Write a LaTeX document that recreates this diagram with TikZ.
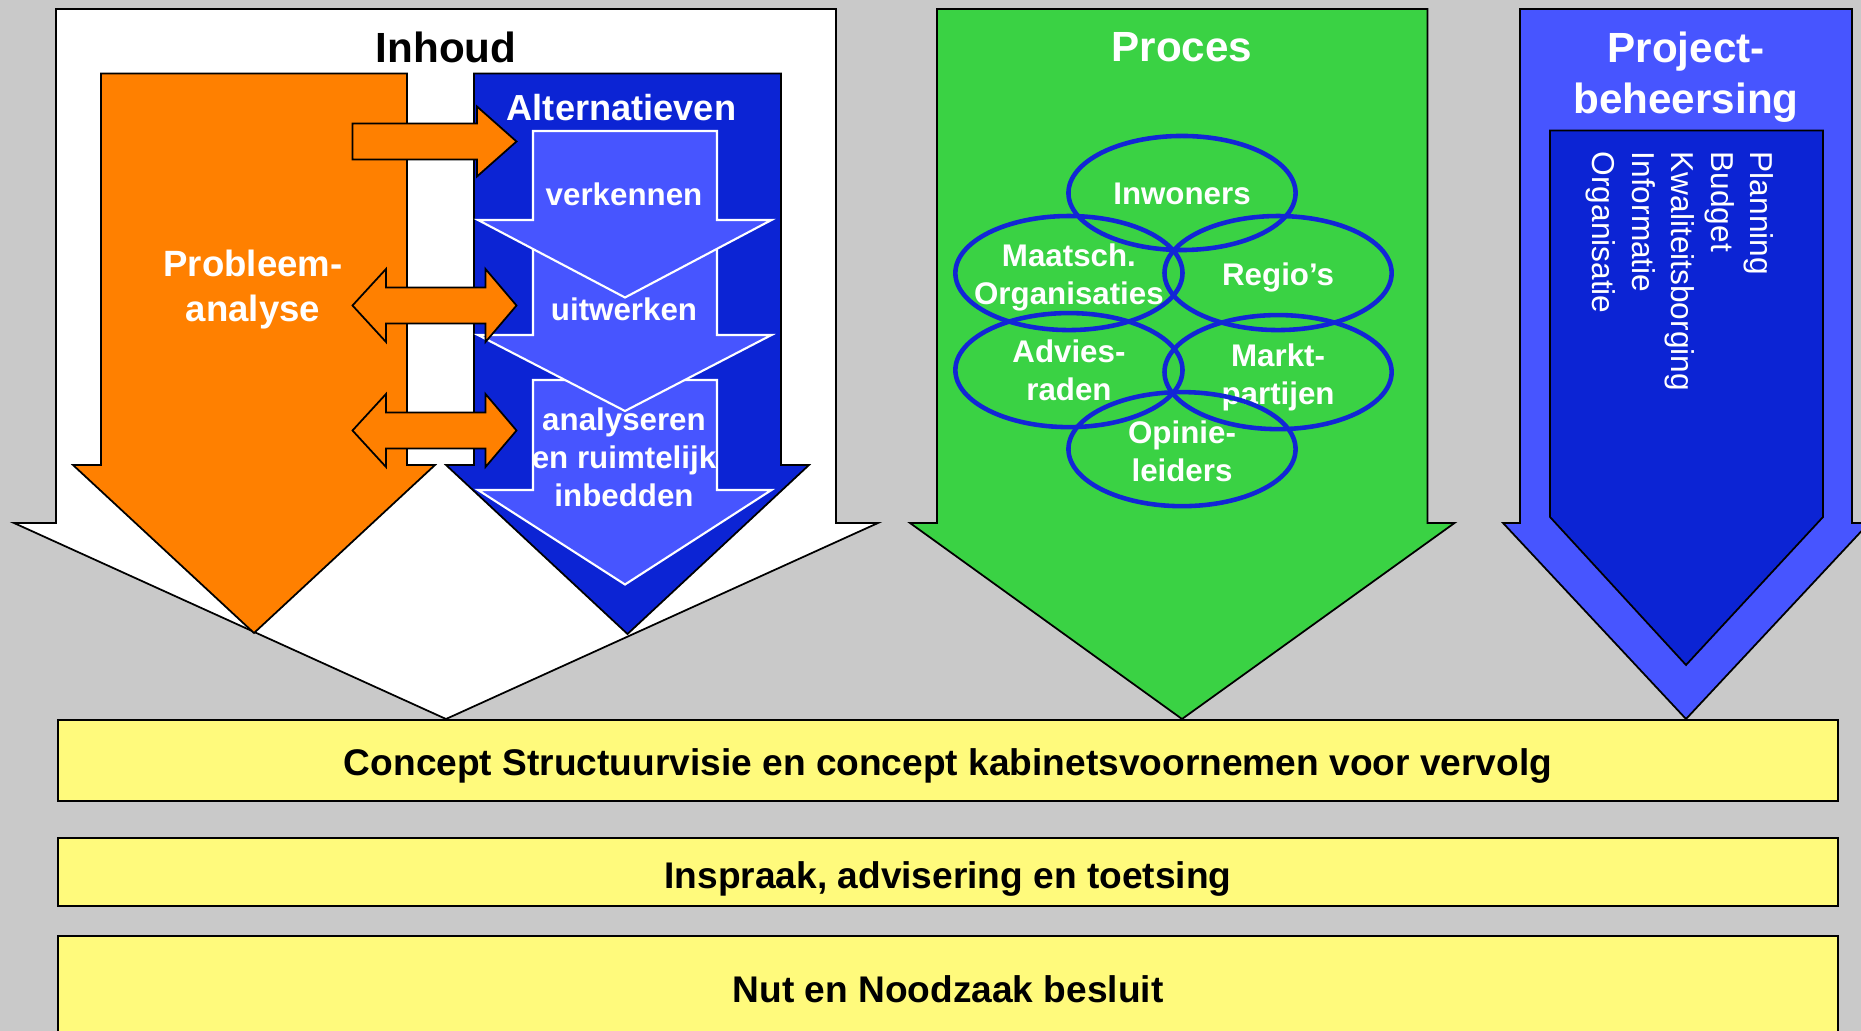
\documentclass[tikz,border=0pt]{standalone}
\usepackage{fontspec}
\setmainfont{Liberation Sans}
\usepackage{xcolor}
\usepackage{tikz}
\usetikzlibrary{positioning}
\usetikzlibrary{shapes.geometric}
\definecolor{bggray}{HTML}{C9C9C9}
\definecolor{orng}{HTML}{FF8000}
\definecolor{darkblue}{HTML}{0C24D4}
\definecolor{lightblue}{HTML}{4755FF}
\definecolor{procgreen}{HTML}{3AD244}
\definecolor{ringblue}{HTML}{1226D6}
\definecolor{baryellow}{HTML}{FFFA7C}
\tikzset {
  % block arrows and their inner steps
  blk/.style={draw=black, line width=0.5pt, line join=miter},
  inner/.style={fill=lightblue, draw=white, line width=0.6pt, line join=miter},
  % stakeholder circles
  ring/.style={draw=ringblue, ellipse, line width=1.3pt, minimum width=2.27cm, minimum height=1.14cm, inner sep=0pt},
  title/.style={font=\bfseries\fontsize{12}{14.6}\selectfont, align=center},
  lbl/.style={font=\bfseries\fontsize{8.9}{10.8}\selectfont, text=white, align=center},
  bar/.style={fill=baryellow, draw=black, line width=0.7pt},
  bartext/.style={font=\bfseries\fontsize{10.55}{12}\selectfont},
}
\begin{document}
\begin{tikzpicture}[x=0.01cm, y=-0.01cm]
        \useasboundingbox (0,0) rectangle (1861,1031);
        \fill[bggray] (0,0) rectangle (1861,1031);

        % Inhoud
        \filldraw[blk, fill=white] (56,9) -- (836,9) -- (836,523) -- (878,523) -- (446,719)
          -- (14,523) -- (56,523) -- cycle;
        \filldraw[blk, fill=orng] (101,73.5) -- (407,73.5) -- (407,465) -- (435,465) -- (254,633)
          -- (73,465) -- (101,465) -- cycle;
        \filldraw[blk, fill=darkblue] (474,73.5) -- (781,73.5) -- (781,465) -- (809,465) -- (627.5,634)
          -- (446,465) -- (474,465) -- cycle;
        \filldraw[inner] (533,380) -- (717,380) -- (717,490) -- (771.5,490) -- (625,584.5)
          -- (478,490) -- (533,490) -- cycle;
        \filldraw[inner] (533,230) -- (717,230) -- (717,335) -- (771.5,335) -- (625,411)
          -- (478,335) -- (533,335) -- cycle;
        \filldraw[inner] (533,131) -- (717,131) -- (717,220) -- (771.5,220) -- (625,297.5)
          -- (478,220) -- (533,220) -- cycle;
        \filldraw[blk, fill=orng] (352.5,123.5) -- (477,123.5) -- (477,106.5) -- (516.5,141.5)
          -- (477,176.5) -- (477,159.5) -- (352.5,159.5) -- cycle;
        \foreach \y in {305.5, 430.5} {
          \filldraw[blk, fill=orng] (352.5,\y) -- (386,\y-36.5) -- (386,\y-18) -- (485.5,\y-18)
            -- (485.5,\y-36.5) -- (516.5,\y) -- (485.5,\y+36.5) -- (485.5,\y+18) -- (386,\y+18)
            -- (386,\y+36.5) -- cycle;
        }
        \node[title, anchor=base] (inh) at (446,63) {Inhoud};
        \node[lbl, font=\bfseries\fontsize{10.4}{12.8}\selectfont] (prob) at (253,290) {Probleem-\\analyse};
        \node[lbl, font=\bfseries\fontsize{10.3}{12}\selectfont, anchor=base] (alt) at (621.5,120.5) {Alternatieven};
        \node[lbl, anchor=base] (verk) at (624,205.5) {verkennen};
        \node[lbl, anchor=base] (uitw) at (624,320.5) {uitwerken};
        \node[lbl] (anal) at (624,457.5) {analyseren\\en ruimtelijk\\inbedden};

        % Proces
        \filldraw[blk, fill=procgreen] (937,9) -- (1427.5,9) -- (1427.5,523) -- (1454.5,523) -- (1182,719)
          -- (910,523) -- (937,523) -- cycle;
        \node[title, text=white, anchor=base] (proc) at (1182,62) {Proces};
        \node[ring] (inw) at (1182,193) {};
        \node[lbl] (inwt) at ([yshift=-0.1mm]inw) {Inwoners};
        \node[ring, on grid] (maat) [below left=0.8cm and 1.13cm of inw] {};
        \node[lbl] (maatt) at ([yshift=-0.45mm]maat) {Maatsch.\\Organisaties};
        \node[ring, on grid] (reg) [below right=0.8cm and 0.96cm of inw] {};
        \node[lbl] (regt) at ([yshift=-0.45mm]reg) {Regio’s};
        \node[ring, on grid] (adv) [below=0.97cm of maat] {};
        \node[lbl] (advt) at (adv) {Advies-\\raden};
        \node[ring, on grid] (mkt) [below=0.99cm of reg] {};
        \node[lbl] (mktt) at ([yshift=-0.55mm]mkt) {Markt-\\partijen};
        \node[ring, on grid] (opi) [below=2.56cm of inw] {};
        \node[lbl] (opit) at ([yshift=-0.25mm]opi) {Opinie-\\leiders};

        % Projectbeheersing
        \filldraw[blk, fill=lightblue] (1520,9) -- (1852,9) -- (1852,523) -- (1869,523) -- (1686,719)
          -- (1503,523) -- (1520,523) -- cycle;
        \filldraw[blk, fill=darkblue] (1550,130.5) -- (1823,130.5) -- (1823,517) -- (1686,665)
          -- (1550,517) -- cycle;
        \node[title, text=white] (pb) at (1686,77.5) {Project-\\beheersing};
        \node[text=white, font=\fontsize{9}{11.2}\selectfont, align=left, rotate=-90,
          anchor=north west, inner sep=0pt] (lst) at (1774,151)
          {Planning\\Budget\\Kwaliteitsborging\\Informatie\\Organisatie};

        % bars
        \draw[bar] (58,720) rectangle (1838,801);
        \draw[bar] (58,838) rectangle (1838,906);
        \draw[bar] (58,936) rectangle (1838,1045);
        \node[bartext] (b1) at (948,766) {Concept Structuurvisie en concept kabinetsvoornemen voor vervolg};
        \node[bartext] (b2) at (948,878.5) {Inspraak, advisering en toetsing};
        \node[bartext] (b3) at (948,989) {Nut en Noodzaak besluit};
\end{tikzpicture}
\end{document}
